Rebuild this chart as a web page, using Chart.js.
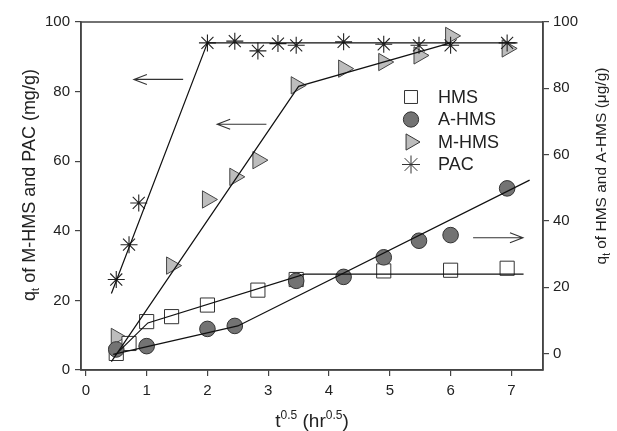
<!DOCTYPE html>
<html>
<head>
<meta charset="utf-8">
<script src="https://cdn.jsdelivr.net/npm/chart.js@4.4.0/dist/chart.umd.min.js"></script>
<style>
    html, body { margin: 0; padding: 0; background: #fff; }
    canvas { display: block; }
</style>
</head>
<body>
<canvas id="kinetics" width="617" height="431"></canvas>
<script>
// Tick labels
const xTicks = [0, 1, 2, 3, 4, 5, 6, 7];
const leftTicks = [0, 20, 40, 60, 80, 100];
const rightTicks = [0, 20, 40, 60, 80, 100];

// PAC (left axis, mg/g)
const pacX = [0.5, 0.71, 0.87, 2.0, 2.45, 2.83, 3.16, 3.46, 4.24, 4.9, 5.48, 6.0, 6.93];
const pacY = [26, 36, 48, 94, 94.5, 91.7, 93.8, 93.3, 94.3, 93.6, 93.3, 93.3, 94];

// M-HMS (left axis, mg/g)
const mhmsX = [0.5, 1.41, 2.0, 2.45, 2.83, 3.46, 4.24, 4.9, 5.48, 6.0, 6.93];
const mhmsY = [9.5, 30, 49, 55.5, 60.3, 81.8, 86.6, 88.5, 90.4, 96, 92.4];

// HMS (right axis, ug/g)
const hmsX = [0.5, 0.71, 1.0, 1.41, 2.0, 2.83, 3.46, 4.9, 6.0, 6.93];
const hmsY = [0, 3, 9.6, 11.1, 14.6, 19.1, 22.3, 24.9, 25.1, 25.7];

// A-HMS (right axis, ug/g)
const ahmsX = [0.5, 1.0, 2.0, 2.45, 3.46, 4.24, 4.9, 5.48, 6.0, 6.93];
const ahmsY = [1.2, 2.2, 7.4, 8.3, 21.9, 23.1, 29.0, 34.0, 35.7, 49.8];

// Piecewise fit lines
const pacFitX = [0.42, 2.0, 7.1];
const pacFitY = [22, 94, 94];
const mhmsFitX = [0.42, 3.5, 6.0];
const mhmsFitY = [2.4, 81.5, 94];
const hmsFitX = [0.48, 1.02, 3.6, 7.2];
const hmsFitY = [-0.5, 9.2, 23.9, 23.9];
const ahmsFitX = [0.45, 2.5, 7.3];
const ahmsFitY = [-0.3, 8.3, 52.3];

// Arrows pointing to the axis each group belongs to
const arrows = [
    { from: 1.6, to: 0.79, at: 83.5 },
    { from: 2.97, to: 2.16, at: 70.6 },
    { from: 6.37, to: 7.19, at: 38 },
];

const FONT = "'Liberation Sans', Arial, Helvetica, sans-serif";
const INK = "#222";

function pts(xs, ys) {
    return xs.map((x, i) => ({ x: x, y: ys[i] }));
}

function fitLine(xs, ys, axis) {
    return {
        data: pts(xs, ys),
        yAxisID: axis,
        showLine: true,
        pointRadius: 0,
        borderColor: "#111",
        borderWidth: 1.2,
        fill: false,
        tension: 0,
        order: 0,
    };
}

// Legend entries (drawn by hand inside the plot)
const legendItems = [
    { label: "HMS", style: "rect", fill: "#fff" },
    { label: "A-HMS", style: "circle", fill: "#737373" },
    { label: "M-HMS", style: "triangle", fill: "#bdbdbd" },
    { label: "PAC", style: "star", fill: null },
];

function drawMarker(ctx, style, fill, x, y, r) {
    ctx.save();
    ctx.lineWidth = 1;
    ctx.strokeStyle = "#333";
    ctx.beginPath();
    if (style === "rect") {
        ctx.rect(x - r * 0.72, y - r * 0.72, r * 1.44, r * 1.44);
    } else if (style === "circle") {
        ctx.arc(x, y, r * 0.85, 0, Math.PI * 2);
    } else if (style === "triangle") {
        ctx.moveTo(x + r, y);
        ctx.lineTo(x - r * 0.55, y - r * 0.9);
        ctx.lineTo(x - r * 0.55, y + r * 0.9);
        ctx.closePath();
    } else {
        for (let k = 0; k < 4; k++) {
            const a = (k * Math.PI) / 4;
            ctx.moveTo(x - Math.cos(a) * r, y - Math.sin(a) * r);
            ctx.lineTo(x + Math.cos(a) * r, y + Math.sin(a) * r);
        }
    }
    if (fill) {
        ctx.fillStyle = fill;
        ctx.fill();
    }
    ctx.stroke();
    ctx.restore();
}

function richText(ctx, parts, x, y, rotate) {
    ctx.save();
    ctx.translate(x, y);
    if (rotate) ctx.rotate(-Math.PI / 2);
    let total = 0;
    parts.forEach(p => {
        ctx.font = p.size + "px " + FONT;
        p.w = ctx.measureText(p.text).width;
        total += p.w;
    });
    let cx = -total / 2;
    ctx.textAlign = "left";
    ctx.textBaseline = "alphabetic";
    ctx.fillStyle = INK;
    parts.forEach(p => {
        ctx.font = p.size + "px " + FONT;
        ctx.fillText(p.text, cx, p.dy);
        cx += p.w;
    });
    ctx.restore();
}

const decorations = {
    id: "decorations",
    afterDraw(chart) {
        const ctx = chart.ctx;
        const area = chart.chartArea;
        const xs = chart.scales.x;
        const ys = chart.scales.y;

        // Frame around the plot
        ctx.save();
        ctx.strokeStyle = "#444";
        ctx.lineWidth = 1.5;
        ctx.strokeRect(area.left, area.top, area.right - area.left, area.bottom - area.top);
        ctx.restore();

        // Arrows
        ctx.save();
        ctx.strokeStyle = "#333";
        ctx.lineWidth = 1.1;
        arrows.forEach(a => {
            const x1 = xs.getPixelForValue(a.from);
            const x2 = xs.getPixelForValue(a.to);
            const yy = ys.getPixelForValue(a.at);
            const dir = Math.sign(x2 - x1);
            ctx.beginPath();
            ctx.moveTo(x1, yy);
            ctx.lineTo(x2, yy);
            ctx.moveTo(x2 - dir * 13, yy - 5);
            ctx.lineTo(x2, yy);
            ctx.lineTo(x2 - dir * 13, yy + 5);
            ctx.stroke();
        });
        ctx.restore();

        // Legend
        ctx.save();
        legendItems.forEach((item, i) => {
            const y = 97 + i * 22.5;
            drawMarker(ctx, item.style, item.fill, 411, y, 9);
            ctx.font = "18px " + FONT;
            ctx.fillStyle = INK;
            ctx.textAlign = "left";
            ctx.textBaseline = "middle";
            ctx.fillText(item.label, 438, y + 1);
        });
        ctx.restore();

        // Axis titles
        richText(ctx, [
            { text: "q", size: 18, dy: 0 },
            { text: "t", size: 11, dy: 4 },
            { text: " of M-HMS and PAC (mg/g)", size: 18, dy: 0 },
        ], 34.5, 185, true);
        richText(ctx, [
            { text: "q", size: 15.5, dy: 0 },
            { text: "t", size: 10, dy: 4 },
            { text: " of HMS and A-HMS (\u03BCg/g)", size: 15.5, dy: 0 },
        ], 606, 166, true);
        richText(ctx, [
            { text: "t", size: 19, dy: 0 },
            { text: "0.5", size: 12, dy: -8 },
            { text: " (hr", size: 19, dy: 0 },
            { text: "0.5", size: 12, dy: -8 },
            { text: ")", size: 19, dy: 0 },
        ], 312, 427, false);
    },
};

const tickFont = { family: FONT, size: 15 };
const axisGrid = { drawOnChartArea: false, drawTicks: true, tickLength: 6, color: "#444", lineWidth: 1.2 };
const axisBorder = { display: true, color: "#444", width: 1.5 };

new Chart(document.getElementById("kinetics"), {
    type: "scatter",
    data: {
        datasets: [
            fitLine(pacFitX, pacFitY, "y"),
            fitLine(mhmsFitX, mhmsFitY, "y"),
            fitLine(hmsFitX, hmsFitY, "y2"),
            fitLine(ahmsFitX, ahmsFitY, "y2"),
            {
                label: "PAC",
                data: pts(pacX, pacY),
                yAxisID: "y",
                pointStyle: "star",
                pointRadius: 8.5,
                pointBorderColor: "#222",
                pointBorderWidth: 1.1,
                order: 1,
            },
            {
                label: "A-HMS",
                data: pts(ahmsX, ahmsY),
                yAxisID: "y2",
                pointStyle: "circle",
                pointRadius: 7.8,
                pointBackgroundColor: "#737373",
                pointBorderColor: "#333",
                pointBorderWidth: 1,
                order: 2,
            },
            {
                label: "HMS",
                data: pts(hmsX, hmsY),
                yAxisID: "y2",
                pointStyle: "rect",
                pointRadius: 10,
                pointBackgroundColor: "#fff",
                pointBorderColor: "#333",
                pointBorderWidth: 1,
                order: 3,
            },
            {
                label: "M-HMS",
                data: pts(mhmsX, mhmsY),
                yAxisID: "y",
                pointStyle: "triangle",
                pointRotation: 90,
                pointRadius: 10,
                pointBackgroundColor: "#bdbdbd",
                pointBorderColor: "#444",
                pointBorderWidth: 1,
                order: 4,
            },
        ],
    },
    options: {
        responsive: false,
        animation: false,
        devicePixelRatio: 1,
        layout: { padding: { top: 22, left: 0, right: 0, bottom: 0 } },
        plugins: {
            legend: { display: false },
            tooltip: { enabled: false },
        },
        scales: {
            x: {
                type: "linear",
                position: "bottom",
                min: -0.08,
                max: 7.52,
                afterBuildTicks: s => { s.ticks = xTicks.map(v => ({ value: v })); },
                afterFit: s => { s.height = 61; },
                ticks: { font: tickFont, color: INK, padding: 6 },
                grid: axisGrid,
                border: axisBorder,
            },
            y: {
                type: "linear",
                position: "left",
                min: 0,
                max: 100,
                afterBuildTicks: s => { s.ticks = leftTicks.map(v => ({ value: v })); },
                afterFit: s => { s.width = 81; },
                ticks: { font: tickFont, color: INK, padding: 5 },
                grid: axisGrid,
                border: axisBorder,
            },
            y2: {
                type: "linear",
                position: "right",
                min: -5,
                max: 100,
                afterBuildTicks: s => { s.ticks = rightTicks.map(v => ({ value: v })); },
                afterFit: s => { s.width = 74; },
                ticks: { font: tickFont, color: INK, padding: 4 },
                grid: axisGrid,
                border: axisBorder,
            },
        },
    },
    plugins: [decorations],
});
</script>
</body>
</html>
